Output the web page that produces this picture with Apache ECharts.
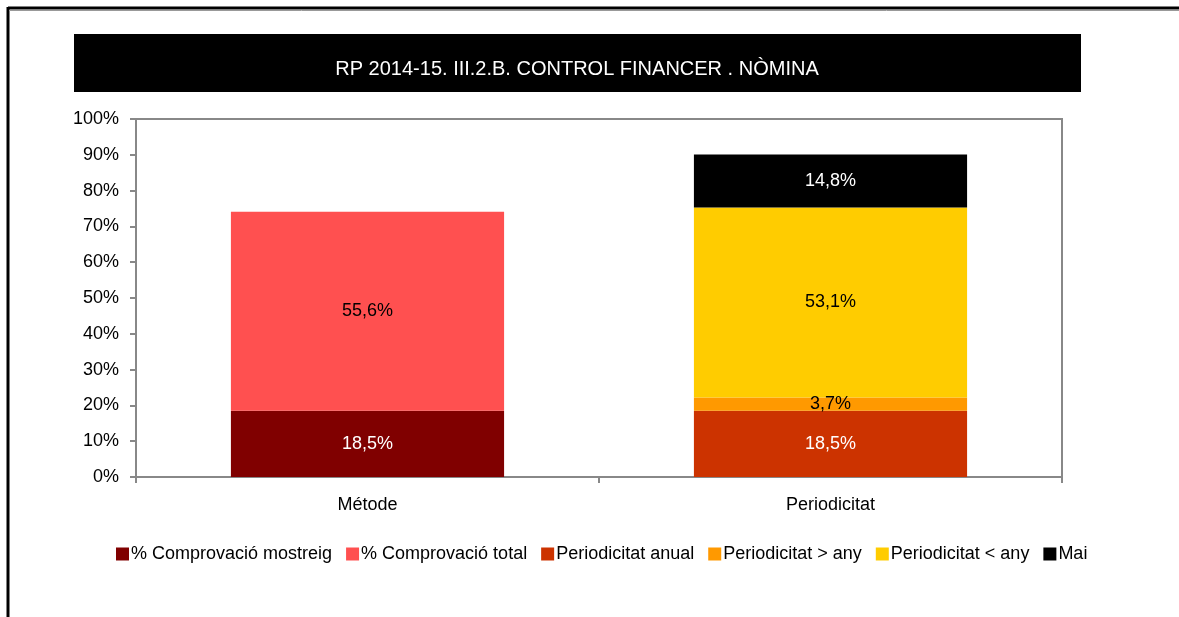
<!DOCTYPE html>
<html><head><meta charset="utf-8">
<script src="https://cdn.jsdelivr.net/npm/echarts@6/dist/echarts.min.js"></script>
<style>html,body{margin:0;padding:0;background:#fff}#c{width:1179px;height:617px}</style>
</head><body><div id="c"></div>
<script>
const titleText = 'RP 2014-15. III.2.B. CONTROL FINANCER . NÒMINA';
const categories = ['Métode', 'Periodicitat'];
const seriesNames = ['% Comprovació mostreig', '% Comprovació total', 'Periodicitat anual', 'Periodicitat > any', 'Periodicitat < any', 'Mai'];
const mostreig = [18.5, null];
const total = [55.6, null];
const anual = [null, 18.5];
const mesAny = [null, 3.7];
const menysAny = [null, 53.1];
const mai = [null, 14.8];
const colors = ['#800000', '#FF5050', '#CC3300', '#FF9900', '#FFCC00', '#000000'];
const labelColors = ['#fff', '#000', '#fff', '#000', '#000', '#fff'];

const FONT = '"Liberation Sans", Arial, sans-serif';
const values = [mostreig, total, anual, mesAny, menysAny, mai];
const fmt = v => v.toFixed(1).replace('.', ',') + '%';

const chart = echarts.init(document.getElementById('c'), null, {renderer: 'canvas'});
chart.setOption({
  animation: false,
  textStyle: {fontFamily: FONT},
  graphic: [
    {type: 'line', shape: {x1: 8, y1: 8, x2: 1179, y2: 8}, style: {stroke: '#000', lineWidth: 3}},
    {type: 'line', shape: {x1: 8, y1: 7, x2: 8, y2: 617}, style: {stroke: '#000', lineWidth: 3}},
    {type: 'line', shape: {x1: 9, y1: 10.5, x2: 1179, y2: 10.5}, style: {stroke: '#999', lineWidth: 1}},
    {type: 'rect', shape: {x: 74, y: 34, width: 1007, height: 58}, style: {fill: '#000'}, z: 1},
    {type: 'text', x: 577, y: 69, z: 2,
     style: {text: titleText, fill: '#fff', font: '20px ' + FONT, align: 'center', verticalAlign: 'middle'}}
  ],
  legend: {
    bottom: 49, left: 111,
    icon: 'rect', itemWidth: 13, itemHeight: 13, itemGap: 14,
    textStyle: {fontSize: 18, color: '#000', fontFamily: FONT, padding: [0,0,0,-3]},
    data: seriesNames
  },
  grid: {left: 136, right: 117, top: 119, bottom: 140, show: true, borderColor: '#888', borderWidth: 2, backgroundColor: 'transparent'},
  xAxis: {
    type: 'category', data: categories,
    axisLine: {lineStyle: {color: '#888', width: 2}},
    axisTick: {show: true, length: 6, lineStyle: {color: '#888', width: 2}},
    axisLabel: {color: '#000', fontSize: 18, margin: 19}
  },
  yAxis: {
    type: 'value', min: 0, max: 100, interval: 10,
    axisLine: {show: true, lineStyle: {color: '#888', width: 2}},
    axisTick: {show: true, length: 6, lineStyle: {color: '#888', width: 2}},
    splitLine: {show: false},
    axisLabel: {color: '#000', fontSize: 18, margin: 17, formatter: '{value}%'}
  },
  series: seriesNames.map((n, i) => ({
    name: n, type: 'bar', stack: 'a', barWidth: '59%',
    itemStyle: {color: colors[i]},
    label: {show: true, position: 'inside', color: labelColors[i], fontSize: 18, fontFamily: FONT,
      formatter: p => (p.value == null ? '' : fmt(p.value))},
    data: values[i]
  }))
});
</script></body></html>
